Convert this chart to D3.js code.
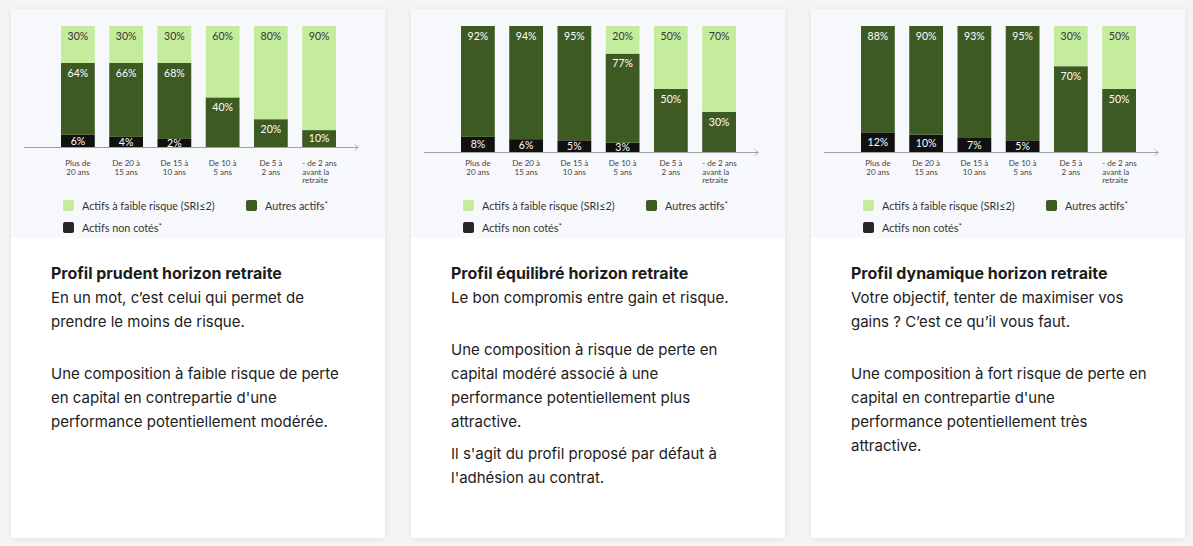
<!DOCTYPE html>
<html>
<head>
<meta charset="utf-8">
<script src="https://cdn.jsdelivr.net/npm/d3@7"></script>
<style>
html, body { margin: 0; background: #f4f4f4; width: 1193px; height: 546px; overflow: hidden; }
.card { position: absolute; top: 9px; width: 374px; height: 529px; background: #fff; box-shadow: 0 1px 6px rgba(0,0,0,0.08); }
.card svg { display: block; background: #f7f8fc; }
.txt { padding: 25px 0 0 40px; font-family: Inter, sans-serif; color: #1c1c1c; }
.txt h3 { margin: 0 0 3px; font-size: 16px; line-height: 20px; font-weight: 700; }
.txt p { margin: 0 0 8px; font-size: 15px; line-height: 24px; }
.txt p span { display: block; white-space: nowrap; }
.txt .gap { height: 20px; }
</style>
</head>
<body>
<script>
/* -----------------    DATA     ------------------ */
const categories = [
    ['Plus de', '20 ans'],
    ['De 20 à', '15 ans'],
    ['De 15 à', '10 ans'],
    ['De 10 à', '5 ans'],
    ['De 5 à', '2 ans'],
    ['- de 2 ans', 'avant la', 'retraite']
];

const seriesNames = ['Actifs à faible risque (SRI≤2)', 'Autres actifs', 'Actifs non cotés'];

// bottom to top: non cotés, autres, faible risque
const prudentLow = [30, 30, 30, 60, 80, 90];
const prudentOther = [64, 66, 68, 40, 20, 10];
const prudentUnlisted = [6, 4, 2, 0, 0, 0];

const balancedLow = [0, 0, 0, 20, 50, 70];
const balancedOther = [92, 94, 95, 77, 50, 30];
const balancedUnlisted = [8, 6, 5, 3, 0, 0];

const dynamicLow = [0, 0, 0, 0, 30, 50];
const dynamicOther = [88, 90, 93, 95, 70, 50];
const dynamicUnlisted = [12, 10, 7, 5, 0, 0];

const titles = [
    'Profil prudent horizon retraite',
    'Profil équilibré horizon retraite',
    'Profil dynamique horizon retraite'
];

// null = blank line
const texts = [
    [
        ['En un mot, c’est celui qui permet de', 'prendre le moins de risque.'],
        null,
        ['Une composition à faible risque de perte', 'en capital en contrepartie d\'une', 'performance potentiellement modérée.']
    ],
    [
        ['Le bon compromis entre gain et risque.'],
        null,
        ['Une composition à risque de perte en', 'capital modéré associé à une', 'performance potentiellement plus', 'attractive.'],
        ['Il s\'agit du profil proposé par défaut à', 'l\'adhésion au contrat.']
    ],
    [
        ['Votre objectif, tenter de maximiser vos', 'gains ? C’est ce qu’il vous faut.'],
        null,
        ['Une composition à fort risque de perte en', 'capital en contrepartie d\'une', 'performance potentiellement très', 'attractive.']
    ]
];

/* -----------------    CONSTANTS     ------------------ */
const settings = {
    cardWidth: 374,
    chartHeight: 229,
    cardLeft: 11,
    cardStep: 400,
    barTop: 17,
    baselines: [138, 143, 143],
    labelY: 157,
    minSeg: 6,
    font: 'Lato, sans-serif',
    colors: ['#c5eb9c', '#3e5a23', '#111111'],
    legendColors: ['#c5eb9c', '#3e5a23', '#262626']
};

const profiles = [
    { low: prudentLow, other: prudentOther, unlisted: prudentUnlisted },
    { low: balancedLow, other: balancedOther, unlisted: balancedUnlisted },
    { low: dynamicLow, other: dynamicOther, unlisted: dynamicUnlisted }
];

/* -----------------    LOGIC     ------------------ */
function drawChart(svg, profile, baseline) {

    const x = d3.scaleBand()
        .domain(d3.range(categories.length))
        .range([50, 325])
        .paddingInner(0.3);

    const fullH = baseline - settings.barTop;

    categories.forEach((c, i) => {
        // series index: 0 low, 1 other, 2 unlisted ; stacked from bottom
        const segs = [
            { s: 2, v: profile.unlisted[i] },
            { s: 1, v: profile.other[i] },
            { s: 0, v: profile.low[i] }
        ].filter(d => d.v > 0);

        const y = d3.scaleLinear()
            .domain([0, 100])
            .range([0, fullH - segs.length * settings.minSeg]);

        let top = baseline;
        const g = svg.append('g');
        segs.forEach(d => {
            const h = settings.minSeg + y(d.v);
            top -= h;
            g.append('rect')
                .attr('x', x(i))
                .attr('y', top)
                .attr('width', x.bandwidth())
                .attr('height', h)
                .attr('fill', settings.colors[d.s]);

            g.append('text')
                .attr('x', x(i) + x.bandwidth() / 2)
                .attr('y', h < 26 ? top + h / 2 + 3.8 : top + 13.8)
                .attr('text-anchor', 'middle')
                .attr('font-family', settings.font)
                .attr('font-size', 10.5)
                .attr('fill', d.s === 0 ? '#333' : '#fff')
                .text(d.v + '%');
        });
    });

    // Axis line with arrow
    svg.append('line')
        .attr('x1', 13).attr('x2', 347)
        .attr('y1', baseline + 0.5).attr('y2', baseline + 0.5)
        .attr('stroke', '#a0a0a0');
    svg.append('path')
        .attr('d', `M344,${baseline - 2.5}L347,${baseline + 0.5}L344,${baseline + 3.5}`)
        .attr('fill', 'none')
        .attr('stroke', '#a0a0a0');

    // Category labels
    const axis = d3.axisBottom(x).tickSize(0).tickFormat('');
    const ag = svg.append('g')
        .attr('transform', `translate(0, ${baseline})`)
        .call(axis);
    ag.select('.domain').remove();
    ag.selectAll('.tick text').each(function (i) {
        const lines = categories[i];
        const t = d3.select(this)
            .attr('y', 0).attr('dy', 0)
            .attr('font-family', settings.font)
            .attr('font-size', 8)
            .attr('fill', '#444');
        const left = lines.length > 2;
        t.attr('text-anchor', left ? 'start' : 'middle');
        lines.forEach((l, j) => {
            t.append('tspan')
                .attr('x', left ? -x.bandwidth() / 2 : 0)
                .attr('y', settings.labelY - baseline + j * 8.7)
                .text(l);
        });
    });

    // Legend
    const legendPos = [[52, 191], [235, 191], [52, 213]];
    seriesNames.forEach((name, s) => {
        const [lx, ly] = legendPos[s];
        svg.append('rect')
            .attr('x', lx).attr('y', ly)
            .attr('width', 11).attr('height', 11)
            .attr('rx', 2)
            .attr('fill', settings.legendColors[s]);
        const t = svg.append('text')
            .attr('x', lx + 19)
            .attr('y', ly + 9.5)
            .attr('font-family', settings.font)
            .attr('font-size', 10.8)
            .attr('fill', '#333')
            .text(name);
        if (s > 0) {
            t.append('tspan')
                .attr('font-size', 8)
                .attr('dy', -3)
                .text('*');
        }
    });
}

const page = d3.select('body');

profiles.forEach((profile, k) => {
    const card = page.append('div')
        .attr('class', 'card')
        .style('left', (settings.cardLeft + k * settings.cardStep) + 'px');

    const svg = card.append('svg')
        .attr('width', settings.cardWidth)
        .attr('height', settings.chartHeight);

    drawChart(svg, profile, settings.baselines[k]);

    const txt = card.append('div').attr('class', 'txt');
    txt.append('h3').text(titles[k]);
    texts[k].forEach(par => {
        if (par === null) {
            txt.append('div').attr('class', 'gap');
            return;
        }
        const p = txt.append('p');
        par.forEach(line => p.append('span').text(line));
    });
});
</script>
</body>
</html>
